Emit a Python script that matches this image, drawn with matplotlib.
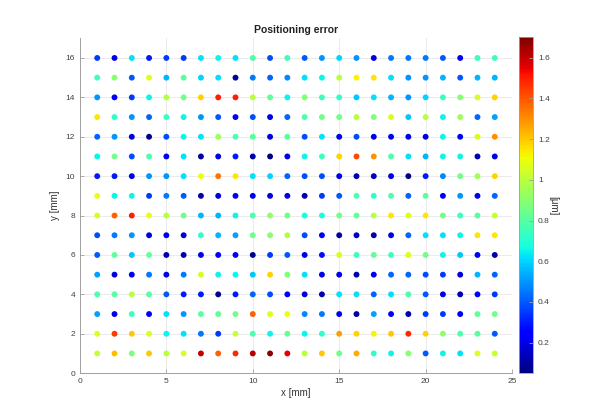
import numpy as np
import matplotlib
matplotlib.use("Agg")
import matplotlib.pyplot as plt
from matplotlib.ticker import FormatStrFormatter

# grid positions (mm)
x_pos = list(range(1, 25))
y_pos = list(range(16, 0, -1))   # rows listed top to bottom

# positioning error [um], one row per y, x = 1..24
err_rows = [
    [0.35, 0.20, 0.62, 0.30, 0.35, 0.35, 0.62, 0.65, 0.62, 0.78, 0.38, 0.75, 0.40, 0.50, 0.60, 0.50, 0.20, 0.45, 0.45, 0.45, 0.40, 0.25, 0.75, 0.75],
    [0.75, 0.90, 0.40, 1.08, 0.55, 0.80, 0.60, 0.62, 0.10, 0.45, 0.42, 0.48, 0.62, 0.65, 1.00, 1.12, 1.15, 0.62, 0.50, 0.50, 0.55, 0.40, 0.55, 0.55],
    [0.50, 0.22, 0.35, 0.65, 0.98, 0.85, 1.18, 1.50, 1.50, 1.00, 0.82, 0.65, 0.90, 0.75, 0.72, 0.58, 0.62, 0.55, 0.50, 0.60, 0.75, 0.90, 1.05, 1.18],
    [1.15, 0.72, 0.50, 0.42, 0.75, 0.65, 0.50, 0.40, 0.22, 0.38, 0.20, 0.42, 0.78, 0.85, 0.85, 1.00, 0.88, 1.05, 0.58, 1.00, 0.65, 0.95, 0.42, 0.52],
    [0.42, 0.50, 0.18, 0.08, 0.38, 0.65, 0.62, 0.95, 0.78, 0.80, 0.18, 0.80, 0.38, 0.62, 0.20, 0.38, 0.20, 0.20, 0.20, 0.18, 0.65, 0.25, 1.05, 1.30],
    [0.65, 0.85, 0.38, 0.78, 0.22, 0.62, 0.10, 0.20, 0.30, 0.12, 0.05, 0.20, 0.65, 0.75, 1.18, 1.42, 1.30, 0.78, 0.62, 0.55, 0.65, 0.65, 0.12, 0.20],
    [0.30, 0.30, 0.20, 0.50, 0.50, 0.62, 1.10, 1.35, 1.15, 0.62, 0.60, 0.42, 0.38, 0.38, 0.20, 0.12, 0.15, 0.20, 0.05, 0.30, 0.48, 0.85, 0.95, 1.18],
    [1.10, 0.65, 0.65, 0.35, 0.45, 0.40, 0.12, 0.18, 0.22, 0.20, 0.20, 0.20, 0.12, 0.35, 0.40, 0.78, 0.72, 0.78, 0.42, 0.80, 0.25, 0.50, 0.25, 0.42],
    [1.05, 1.38, 1.50, 1.10, 1.00, 0.85, 0.55, 0.55, 0.65, 0.78, 0.92, 0.85, 0.68, 0.68, 0.85, 0.82, 1.00, 1.15, 1.08, 1.15, 0.85, 0.75, 0.80, 1.02],
    [0.38, 0.45, 0.50, 0.20, 0.20, 0.18, 0.72, 0.55, 0.52, 0.85, 0.90, 0.98, 0.38, 0.25, 0.10, 0.15, 0.12, 0.20, 0.42, 0.62, 0.62, 0.65, 1.15, 1.15],
    [0.40, 0.82, 0.58, 0.82, 0.12, 0.12, 0.20, 0.25, 0.22, 0.08, 0.35, 0.40, 0.20, 0.28, 1.05, 0.75, 0.82, 0.75, 1.08, 0.85, 0.65, 0.58, 0.25, 0.12],
    [0.52, 0.20, 0.20, 0.45, 0.20, 0.45, 1.05, 0.65, 0.65, 0.58, 1.18, 0.88, 0.62, 0.22, 0.20, 0.12, 0.20, 0.42, 0.42, 0.38, 0.35, 0.20, 0.55, 0.42],
    [0.78, 0.80, 1.00, 0.80, 0.40, 0.30, 0.30, 0.08, 0.30, 0.42, 0.38, 0.25, 0.18, 0.12, 0.62, 0.62, 0.42, 0.62, 0.78, 0.40, 0.20, 0.12, 0.25, 0.35],
    [0.52, 0.20, 0.75, 0.25, 0.62, 0.50, 0.80, 0.82, 0.85, 1.38, 1.08, 1.10, 0.48, 0.45, 0.22, 0.10, 0.52, 0.25, 0.12, 0.35, 0.35, 0.25, 0.82, 0.85],
    [1.08, 1.45, 1.20, 1.08, 0.65, 0.62, 0.45, 0.35, 1.02, 0.78, 0.65, 0.82, 0.65, 0.72, 1.28, 1.18, 1.12, 1.20, 1.48, 1.18, 0.92, 0.78, 0.80, 0.40],
    [1.02, 1.22, 0.88, 1.20, 1.00, 1.05, 1.60, 1.38, 1.48, 1.62, 1.68, 1.55, 1.00, 1.20, 0.85, 1.25, 0.72, 0.65, 0.90, 0.40, 0.65, 0.62, 1.08, 1.02],
]

x_ticks = [0, 5, 10, 15, 20, 25]
y_ticks = [0, 2, 4, 6, 8, 10, 12, 14, 16]
cbar_ticks = [0.2, 0.4, 0.6, 0.8, 1.0, 1.2, 1.4, 1.6]
err_min, err_max = 0.05, 1.70

plt.rcParams['font.family'] = ['Liberation Sans', 'DejaVu Sans']

XX, YY = np.meshgrid(x_pos, y_pos)
vals = np.array(err_rows)

fig = plt.figure(figsize=(6.01, 4.16), dpi=100)
ax = fig.add_axes([0.133, 0.103, 0.719, 0.805])
cax = fig.add_axes([0.8636, 0.103, 0.0233, 0.807])

sc = ax.scatter(XX.ravel(), YY.ravel(), c=vals.ravel(), cmap='jet',
                vmin=err_min, vmax=err_max, s=18, linewidths=0, zorder=3)

ax.set_xlim(0, 25)
ax.set_ylim(0, 17)
ax.set_xticks(x_ticks)
ax.set_yticks(y_ticks)
ax.grid(True, color='#e8e8e8', linewidth=0.6, zorder=0)
ax.set_axisbelow(True)
for side in ['top', 'right']:
    ax.spines[side].set_visible(False)
for side in ['left', 'bottom']:
    ax.spines[side].set_color('#a0a0a0')
    ax.spines[side].set_linewidth(0.7)
ax.tick_params(direction='in', length=3, width=0.6, color='#a0a0a0',
               labelsize=6, labelcolor='#404040')

ax.set_title('Positioning error', fontsize=7.5, fontweight='bold', color='#222222', pad=4)
ax.set_xlabel('x [mm]', fontsize=7, color='#333333', labelpad=2)
ax.set_ylabel('y [mm]', fontsize=7, color='#333333', labelpad=4)

cb = fig.colorbar(sc, cax=cax)
cb.set_ticks(cbar_ticks)
cb.ax.yaxis.set_major_formatter(FormatStrFormatter('%g'))
cb.ax.tick_params(direction='in', length=3, width=0.6, color='#a0a0a0',
                  labelsize=6, labelcolor='#404040')
cb.outline.set_edgecolor('#a0a0a0')
cb.outline.set_linewidth(0.6)
cb.set_label('[\u03bcm]', rotation=270, fontsize=7, color='#333333', labelpad=6)

fig.savefig('out.png', dpi=100)
